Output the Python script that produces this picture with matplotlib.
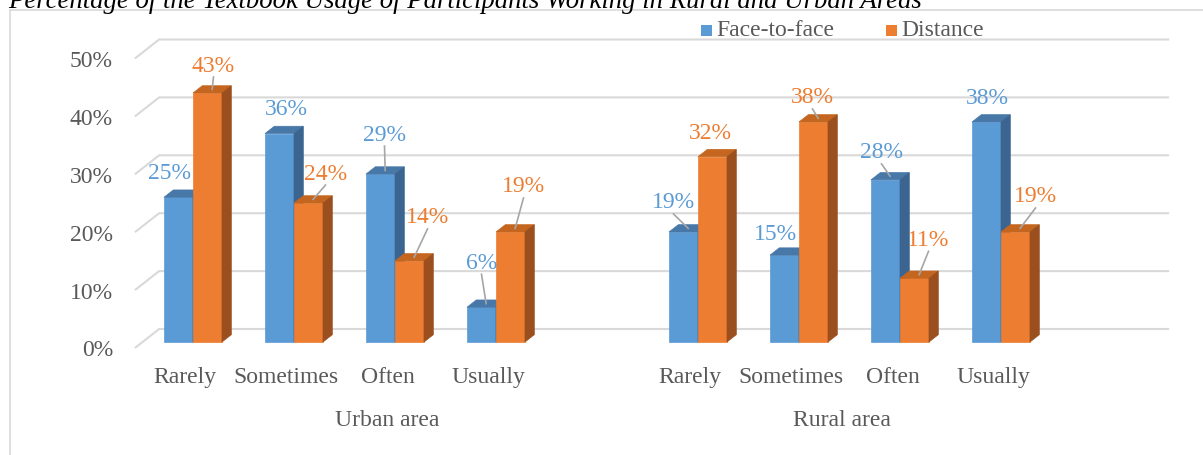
import matplotlib.pyplot as plt
from matplotlib.patches import Polygon, Rectangle

plt.rcParams['font.family'] = ['Liberation Serif', 'DejaVu Serif']

# data
categories = ["Rarely", "Sometimes", "Often", "Usually"]
groups = ["Urban area", "Rural area"]
face_to_face = [25, 36, 29, 6, 19, 15, 28, 38]
distance = [43, 24, 14, 19, 32, 38, 11, 19]
yticks = [0, 10, 20, 30, 40, 50]

# label offsets from bar top (pixels) and whether a leader line is drawn
ftf_off = [(-9, -25, 0), (7, -25, 0), (4, -40, 1), (0, -45, 1),
           (-10, -30, 1), (-9, -22, 0), (-4, -28, 1), (1, -24, 0)]
dis_off = [(6, -28, 1), (17, -30, 1), (18, -44, 1), (13, -46, 1),
           (-2, -24, 0), (-1, -25, 1), (14, -39, 1), (20, -36, 1)]

BLUE, BLUE_TOP, BLUE_SIDE = "#5B9BD5", "#4878A8", "#3B6590"
ORANGE, ORANGE_TOP, ORANGE_SIDE = "#ED7D31", "#C4661F", "#9B4F1E"
GRID = "#D9D9D9"
TXT = "#595959"
FS = 17

PX = 101.0   # pixels per category slot
PY = 5.79    # pixels per percent
W, H = 1203, 456
X0, Y0 = 193, 343  # pixel of slot 0 centre / 0 % on bar front plane

fig = plt.figure(figsize=(W / 100, H / 100), dpi=100)
ax = fig.add_axes([0, 0, 1, 1])
ax.set_xlim(-X0 / PX, (W - X0) / PX)
ax.set_ylim(-(H - Y0) / PY, Y0 / PY)
ax.axis("off")

def dxp(p):
    return p / PX

def dyp(p):
    return p / PY

# bar depth
bdx, bdy = dxp(9.3), dyp(7.3)
# front floor edge / back wall offsets
fdx, fdy = dxp(-7.6), dyp(-6)
wdx, wdy = dxp(16.6), dyp(13)

# gridlines (floor + back wall)
left, right = -0.5, 9.5
for v in yticks:
    ax.plot([left + fdx, left + wdx, right + wdx], [v + fdy, v + wdy, v + wdy],
            color=GRID, lw=1.5, zorder=1, solid_capstyle="butt")
    ax.text(left + fdx - dxp(22), v + fdy - dyp(2), f"{v}%", ha="right", va="center",
            fontsize=FS, color=TXT)

positions = [0, 1, 2, 3, 5, 6, 7, 8]
bw = dxp(29)

def bar3d(x, h, front, top, side):
    ax.add_patch(Polygon([(x, 0), (x + bw, 0), (x + bw, h), (x, h)],
                         closed=True, fc=front, ec=front, lw=0.5, zorder=3))
    ax.add_patch(Polygon([(x, h), (x + bw, h), (x + bw + bdx, h + bdy), (x + bdx, h + bdy)],
                         closed=True, fc=top, ec=top, lw=0.5, zorder=3))
    ax.add_patch(Polygon([(x + bw, 0), (x + bw + bdx, bdy), (x + bw + bdx, h + bdy), (x + bw, h)],
                         closed=True, fc=side, ec=side, lw=0.5, zorder=3))

def label(xc, h, val, off, color):
    ox, oy, lead = off
    lx, ly = xc + dxp(ox), h - dyp(oy)
    if lead:
        ax.plot([xc + bdx / 2, lx], [h + bdy / 2, ly - dyp(12)],
                color="#A6A6A6", lw=1.2, zorder=4)
    ax.text(lx, ly, f"{val}%", ha="center", va="center", fontsize=FS,
            color=color, zorder=5)

for i, p in enumerate(positions):
    bar3d(p - bw, face_to_face[i], BLUE, BLUE_TOP, BLUE_SIDE)
    bar3d(p, distance[i], ORANGE, ORANGE_TOP, ORANGE_SIDE)
for i, p in enumerate(positions):
    label(p - bw / 2, face_to_face[i], face_to_face[i], ftf_off[i], BLUE)
    label(p + bw / 2, distance[i], distance[i], dis_off[i], ORANGE)

# category labels
for i, p in enumerate(positions):
    ax.text(p + fdx, dyp(-35), categories[i % 4], ha="center", va="center",
            fontsize=FS, color=TXT)
ax.text(2 + fdx, dyp(-78), groups[0], ha="center", va="center", fontsize=FS, color=TXT)
ax.text(6.5 + fdx, dyp(-78), groups[1], ha="center", va="center", fontsize=FS, color=TXT)

# legend
fig.patches.append(Rectangle((701 / W, 1 - 37 / H), 11 / W, 11 / H,
                             transform=fig.transFigure, fc=BLUE, ec="none"))
fig.text(716 / W, 1 - 31 / H, "Face-to-face", ha="left", va="center", fontsize=FS, color=TXT)
fig.patches.append(Rectangle((886 / W, 1 - 37 / H), 11 / W, 11 / H,
                             transform=fig.transFigure, fc=ORANGE, ec="none"))
fig.text(901 / W, 1 - 31 / H, "Distance", ha="left", va="center", fontsize=FS, color=TXT)

# chart border
fig.patches.append(Rectangle((10 / W, -0.05), 1.2, 1 - 11 / H + 0.05,
                             transform=fig.transFigure, fc="none", ec=GRID, lw=1.2))

# title (cropped at top)
fig.text(8 / W, 1 - 1 / H, "Percentage of the Textbook Usage of Participants Working in Rural and Urban Areas",
         ha="left", va="center", fontsize=19.3, style="italic", color="black")

fig.savefig("out.png", dpi=100)
